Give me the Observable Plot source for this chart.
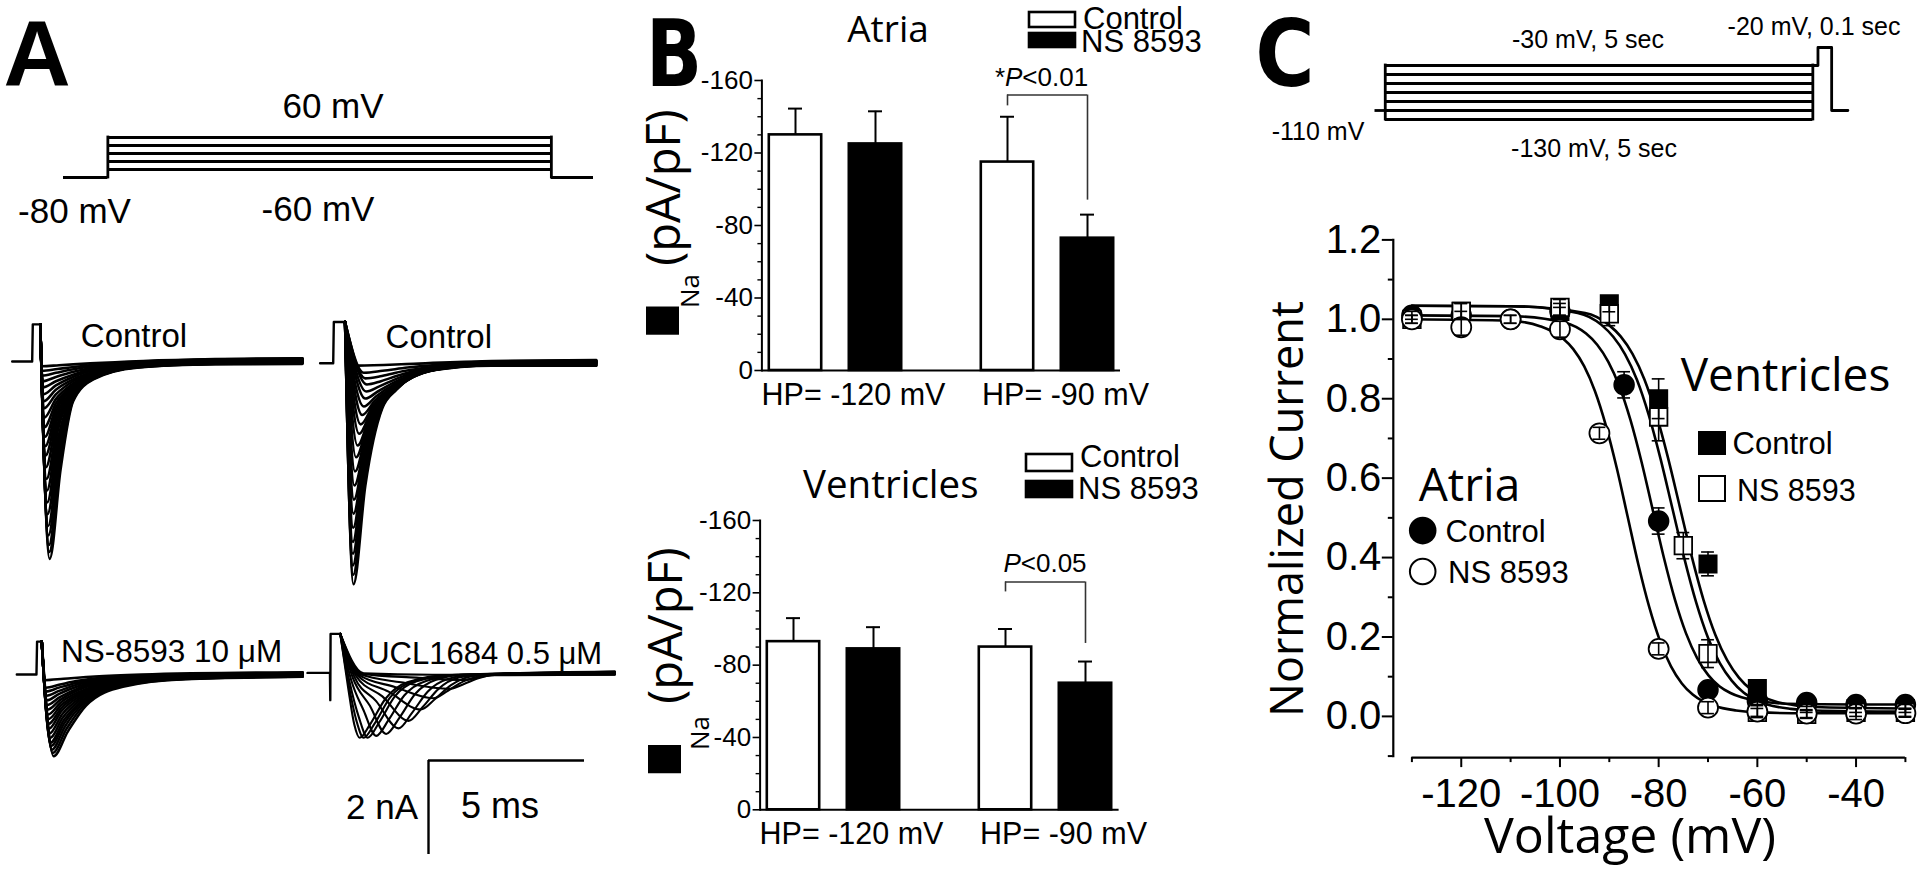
<!DOCTYPE html>
<html><head><meta charset="utf-8">
<script src="https://cdn.jsdelivr.net/npm/d3@7"></script>
<script src="https://cdn.jsdelivr.net/npm/@observablehq/plot@0.6"></script>
<style>
html,body{margin:0;padding:0;background:#fff;}
#fig{position:relative;width:1920px;height:870px;overflow:hidden;background:#fff;}
</style></head>
<body><div id="fig"></div>
<script>
// ---------------- DATA ----------------
// Panel A: voltage protocol (schematic)
const protoALevels = [60, 30, 0, -30, -60];
const protoAHold = -80;
const protoATimes = [0, 1, 11, 11.95]; // hold start, step on, step off, end

// Panel A: current traces (t in ms, I in nA)
const ctrlAtriaPulse = [[0,0],[0.64,0],[0.66,0.79],[0.9,0.79]];
const ctrlAtriaSweeps = [
 [[1.20,-4.2],[1.55,-2.3],[1.95,-0.85],[2.6,-0.38],[4.0,-0.13],[6.5,-0.06],[9.3,-0.05]],
 [[1.19,-4.05],[1.54,-2.2],[1.95,-0.82],[2.6,-0.37],[4.0,-0.12],[6.5,-0.05],[9.3,-0.035]],
 [[1.18,-3.9],[1.53,-2.1],[1.95,-0.8],[2.6,-0.36],[4.0,-0.12],[6.5,-0.05],[9.3,-0.04]],
 [[1.16,-3.7],[1.51,-2.0],[1.95,-0.77],[2.62,-0.35],[4.05,-0.11],[6.5,-0.04],[9.3,-0.03]],
 [[1.15,-3.5],[1.5,-1.9],[1.95,-0.75],[2.65,-0.34],[4.1,-0.11],[6.5,-0.04],[9.3,-0.02]],
 [[1.13,-3.25],[1.49,-1.75],[1.95,-0.73],[2.68,-0.33],[4.1,-0.1],[6.5,-0.03],[9.3,-0.015]],
 [[1.12,-3.0],[1.48,-1.6],[1.95,-0.72],[2.7,-0.32],[4.1,-0.1],[6.5,-0.03],[9.3,-0.01]],
 [[1.11,-2.75],[1.46,-1.47],[1.95,-0.7],[2.72,-0.31],[4.15,-0.09],[6.5,-0.02],[9.3,-0.005]],
 [[1.1,-2.5],[1.45,-1.35],[1.95,-0.68],[2.75,-0.3],[4.2,-0.09],[6.5,-0.02],[9.3,0.0]],
 [[1.08,-2.25],[1.43,-1.25],[1.95,-0.65],[2.78,-0.29],[4.2,-0.085],[6.5,-0.015],[9.3,0.005]],
 [[1.07,-2.0],[1.42,-1.15],[1.95,-0.62],[2.8,-0.28],[4.2,-0.08],[6.5,-0.01],[9.3,0.01]],
 [[1.06,-1.8],[1.41,-1.06],[1.95,-0.58],[2.8,-0.26],[4.2,-0.075],[6.5,-0.005],[9.3,0.015]],
 [[1.05,-1.6],[1.4,-0.98],[1.95,-0.55],[2.8,-0.25],[4.2,-0.07],[6.5,0.0],[9.3,0.02]],
 [[1.03,-1.4],[1.4,-0.89],[1.95,-0.51],[2.8,-0.23],[4.2,-0.065],[6.5,0.005],[9.3,0.025]],
 [[1.02,-1.2],[1.4,-0.8],[1.95,-0.47],[2.8,-0.22],[4.2,-0.06],[6.5,0.01],[9.3,0.03]],
 [[1.01,-1.0],[1.4,-0.7],[1.95,-0.42],[2.8,-0.2],[4.2,-0.055],[6.5,0.015],[9.3,0.035]],
 [[1.0,-0.85],[1.4,-0.6],[1.95,-0.38],[2.8,-0.18],[4.2,-0.05],[6.5,0.02],[9.3,0.04]],
 [[0.99,-0.7],[1.4,-0.51],[1.95,-0.33],[2.8,-0.15],[4.2,-0.04],[6.5,0.025],[9.3,0.045]],
 [[0.98,-0.55],[1.4,-0.42],[1.95,-0.28],[2.8,-0.13],[4.2,-0.03],[6.5,0.03],[9.3,0.05]],
 [[0.97,-0.42],[1.4,-0.33],[1.97,-0.22],[2.8,-0.1],[4.2,-0.02],[6.5,0.035],[9.3,0.055]],
 [[0.96,-0.3],[1.4,-0.24],[2.0,-0.16],[2.8,-0.08],[4.2,-0.01],[6.5,0.04],[9.3,0.06]],
 [[0.955,-0.2],[1.45,-0.16],[2.2,-0.1],[3.2,-0.04],[4.2,0.0],[6.5,0.045],[9.3,0.065]],
 [[0.95,-0.1],[1.5,-0.08],[2.5,-0.04],[4.2,0.01],[6.5,0.05],[9.3,0.07]]
];
const ctrlVentPulse = [[0,0],[0.42,0],[0.44,0.88],[0.8,0.88]];
const ctrlVentSweeps = [
 [[1.07,-4.7],[1.45,-2.6],[1.99,-0.96],[2.45,-0.56],[3.5,-0.16],[5.5,-0.05],[8.85,-0.05]],
 [[1.06,-4.5],[1.44,-2.45],[1.99,-0.93],[2.48,-0.53],[3.5,-0.155],[5.5,-0.045],[8.85,-0.045]],
 [[1.05,-4.3],[1.43,-2.3],[1.99,-0.9],[2.5,-0.5],[3.5,-0.15],[5.5,-0.04],[8.85,-0.04]],
 [[1.05,-4.05],[1.425,-2.15],[1.99,-0.88],[2.52,-0.48],[3.55,-0.145],[5.5,-0.035],[8.85,-0.03]],
 [[1.05,-3.8],[1.42,-2.0],[2.0,-0.85],[2.55,-0.46],[3.6,-0.14],[5.5,-0.03],[8.85,-0.02]],
 [[1.06,-3.5],[1.435,-1.87],[2.02,-0.83],[2.58,-0.44],[3.6,-0.135],[5.5,-0.025],[8.85,-0.015]],
 [[1.07,-3.2],[1.45,-1.75],[2.05,-0.8],[2.6,-0.42],[3.6,-0.13],[5.5,-0.02],[8.85,-0.01]],
 [[1.085,-2.9],[1.475,-1.62],[2.08,-0.78],[2.65,-0.41],[3.65,-0.125],[5.5,-0.015],[8.85,-0.005]],
 [[1.1,-2.6],[1.5,-1.5],[2.1,-0.75],[2.7,-0.4],[3.7,-0.12],[5.5,-0.01],[8.85,0.0]],
 [[1.12,-2.3],[1.52,-1.37],[2.12,-0.72],[2.75,-0.38],[3.75,-0.115],[5.5,-0.005],[8.85,0.005]],
 [[1.15,-2.0],[1.55,-1.25],[2.15,-0.68],[2.8,-0.36],[3.8,-0.11],[5.5,0.0],[8.85,0.01]],
 [[1.2,-1.75],[1.6,-1.12],[2.2,-0.64],[2.85,-0.33],[3.9,-0.105],[5.5,0.005],[8.85,0.015]],
 [[1.25,-1.5],[1.65,-1.0],[2.25,-0.6],[2.9,-0.3],[4.0,-0.1],[5.5,0.01],[8.85,0.02]],
 [[1.3,-1.3],[1.7,-0.9],[2.3,-0.55],[2.95,-0.28],[4.05,-0.09],[5.5,0.015],[8.85,0.025]],
 [[1.35,-1.1],[1.75,-0.8],[2.35,-0.5],[3.0,-0.26],[4.1,-0.08],[5.5,0.02],[8.85,0.03]],
 [[1.4,-0.92],[1.8,-0.7],[2.4,-0.44],[3.05,-0.23],[4.15,-0.07],[5.5,0.02],[8.85,0.035]],
 [[1.45,-0.75],[1.85,-0.6],[2.45,-0.38],[3.1,-0.2],[4.2,-0.06],[5.5,0.02],[8.85,0.04]],
 [[1.48,-0.6],[1.9,-0.49],[2.48,-0.32],[3.15,-0.17],[4.25,-0.05],[5.5,0.025],[8.85,0.045]],
 [[1.5,-0.45],[1.95,-0.38],[2.5,-0.26],[3.2,-0.14],[4.3,-0.04],[5.5,0.03],[8.85,0.05]],
 [[1.45,-0.32],[1.98,-0.27],[2.65,-0.17],[3.6,-0.08],[4.6,-0.02],[5.5,0.035],[8.85,0.055]],
 [[1.4,-0.2],[2.0,-0.16],[2.8,-0.09],[4.0,-0.02],[5.5,0.04],[8.85,0.06]],
 [[1.2,-0.05],[3.0,-0.01],[5.5,0.05],[8.85,0.07]]
];
const nsAtriaPulse = [[0,0],[0.63,0],[0.65,0.7],[0.8,0.7]];
const nsAtriaSweeps = [
 [[1.18,-1.74],[1.63,-1.22],[2.22,-0.66],[3.4,-0.26],[5.4,-0.1],[9.16,-0.05]],
 [[1.15,-1.67],[1.59,-1.16],[2.18,-0.63],[3.35,-0.25],[5.4,-0.095],[9.16,-0.045]],
 [[1.12,-1.6],[1.55,-1.1],[2.15,-0.6],[3.3,-0.24],[5.4,-0.09],[9.16,-0.04]],
 [[1.1,-1.52],[1.52,-1.04],[2.12,-0.57],[3.3,-0.23],[5.4,-0.085],[9.16,-0.03]],
 [[1.08,-1.45],[1.5,-0.98],[2.1,-0.55],[3.3,-0.22],[5.4,-0.08],[9.16,-0.02]],
 [[1.065,-1.35],[1.47,-0.92],[2.07,-0.52],[3.25,-0.21],[5.4,-0.075],[9.16,-0.015]],
 [[1.05,-1.25],[1.45,-0.85],[2.05,-0.49],[3.2,-0.2],[5.4,-0.07],[9.16,-0.01]],
 [[1.035,-1.15],[1.43,-0.78],[2.02,-0.46],[3.2,-0.19],[5.4,-0.065],[9.16,-0.005]],
 [[1.02,-1.05],[1.42,-0.72],[2.0,-0.43],[3.2,-0.18],[5.4,-0.06],[9.16,0.0]],
 [[1.01,-0.95],[1.41,-0.66],[2.0,-0.4],[3.15,-0.17],[5.4,-0.055],[9.16,0.005]],
 [[1.0,-0.85],[1.4,-0.6],[2.0,-0.37],[3.1,-0.16],[5.4,-0.05],[9.16,0.01]],
 [[0.985,-0.75],[1.39,-0.54],[1.97,-0.33],[3.05,-0.145],[5.4,-0.045],[9.16,0.015]],
 [[0.97,-0.65],[1.38,-0.48],[1.95,-0.3],[3.0,-0.13],[5.4,-0.04],[9.16,0.02]],
 [[0.96,-0.55],[1.36,-0.41],[1.92,-0.26],[2.95,-0.115],[5.4,-0.035],[9.16,0.025]],
 [[0.95,-0.45],[1.35,-0.35],[1.9,-0.22],[2.9,-0.1],[5.4,-0.03],[9.16,0.03]],
 [[0.94,-0.36],[1.35,-0.28],[1.9,-0.18],[2.9,-0.08],[5.4,-0.02],[9.16,0.035]],
 [[0.93,-0.28],[1.35,-0.22],[1.9,-0.14],[2.9,-0.06],[5.4,-0.01],[9.16,0.04]],
 [[0.9,-0.12],[1.5,-0.09],[2.5,-0.04],[4.0,0.0],[9.16,0.05]]
];
const uclPulse = [[0,0],[0.72,0],[0.73,-0.58],[0.74,0.83],[1.05,0.83]];
const uclSweeps = [
 [[1.3,-0.3],[1.5,-1.1],[1.67,-1.38],[2.0,-1.1],[2.5,-0.55],[3.2,-0.2],[4.5,-0.05],[9.85,-0.04]],
 [[1.32,-0.25],[1.57,-1.02],[1.8,-1.38],[2.15,-1.08],[2.65,-0.52],[3.35,-0.19],[4.65,-0.045],[9.85,-0.035]],
 [[1.35,-0.2],[1.65,-0.95],[1.93,-1.38],[2.3,-1.05],[2.8,-0.5],[3.5,-0.18],[4.8,-0.04],[9.85,-0.03]],
 [[1.4,-0.15],[1.8,-0.8],[2.2,-1.34],[2.6,-1.0],[3.1,-0.48],[3.8,-0.17],[5.0,-0.04],[9.85,-0.02]],
 [[1.45,-0.1],[2.0,-0.7],[2.52,-1.30],[2.95,-0.95],[3.45,-0.45],[4.1,-0.15],[5.2,-0.03],[9.85,-0.01]],
 [[1.5,-0.08],[2.2,-0.6],[2.92,-1.18],[3.35,-0.85],[3.85,-0.4],[4.5,-0.13],[5.5,-0.03],[9.85,0.0]],
 [[1.55,-0.06],[2.4,-0.5],[3.24,-1.02],[3.7,-0.72],[4.2,-0.34],[4.85,-0.1],[5.8,-0.02],[9.85,0.01]],
 [[1.6,-0.05],[2.6,-0.4],[3.63,-0.78],[4.1,-0.55],[4.6,-0.26],[5.2,-0.08],[6.0,-0.02],[9.85,0.01]],
 [[1.65,-0.04],[2.8,-0.3],[4.03,-0.54],[4.5,-0.38],[5.0,-0.18],[5.6,-0.06],[6.3,-0.01],[9.85,0.02]],
 [[1.7,-0.03],[3.0,-0.2],[4.55,-0.34],[5.0,-0.24],[5.5,-0.11],[6.1,-0.03],[9.85,0.02]],
 [[1.75,-0.02],[3.5,-0.1],[5.0,-0.15],[5.6,-0.08],[6.5,-0.01],[9.85,0.03]],
 [[1.8,-0.01],[4.0,-0.04],[6.0,-0.02],[9.85,0.03]]
];
const scaleBarNA = 2, scaleBarMs = 5;

// Panel B: bar charts (pA/pF)
const hpGroups = ["HP= -120 mV", "HP= -90 mV"];
const atriaControl = [-130, -115], atriaControlSE = [14.5, 25];
const atriaNS = [-125, -73], atriaNSSE = [18, 13];
const ventControl = [-93, -90], ventControlSE = [13, 10];
const ventNS = [-89, -70], ventNSSE = [12, 12];
const atriaBracket = {top: -152, left: -146, right: -94};
const ventBracket = {top: -126, left: -120.5, right: -92};
const barMajorTicks = [0, -40, -80, -120, -160];
const barMinorTicks = [-10,-20,-30,-50,-60,-70,-90,-100,-110,-130,-140,-150];

// Panel C: protocol (schematic, evenly spaced levels)
const protoCLevels = [-30, -45, -60, -75, -90, -110, -130];
const protoCHold = -110, protoCPulse = -20;
const protoCAxis = [-20, -25, -30, -45, -60, -75, -90, -110, -130];
const protoCTimes = {holdStart: -0.12, stepOn: 0, stepOff: 5, pulseOn: 5.06, pulseOff: 5.22, end: 5.41};

// Panel C: steady-state inactivation data
const voltAtriaCtrl = [-130,-120,-110,-100,-87,-80,-70,-60,-50,-40,-30];
const curAtriaCtrl  = [1.01,1.01,1.0,1.02,0.835,0.492,0.067,0.04,0.035,0.03,0.03];
const semAtriaCtrl  = [0.01,0.01,0.01,0.01,0.033,0.033,0.015,0.01,0.01,0.01,0.01];
const voltAtriaNS = [-130,-120,-110,-100,-92,-80,-70,-60,-50,-40,-30];
const curAtriaNS  = [1.0,0.98,1.0,0.975,0.713,0.17,0.022,0.012,0.007,0.007,0.008];
const semAtriaNS  = [0.01,0.02,0.01,0.02,0.015,0.015,0.015,0.015,0.01,0.015,0.01];
const voltVentCtrl = [-120,-100,-90,-80,-70,-60,-50,-40,-30];
const curVentCtrl  = [1.02,1.02,1.039,0.80,0.384,0.07,0.02,0.02,0.02];
const semVentCtrl  = [0.02,0.02,0.02,0.05,0.03,0.02,0.01,0.01,0.01];
const voltVentNS = [-130,-120,-100,-90,-80,-75,-70,-60,-50,-40,-30];
const curVentNS  = [1.0,1.02,1.03,1.014,0.754,0.43,0.158,0.01,0.005,0.01,0.01];
const semVentNS  = [0.01,0.02,0.02,0.03,0.06,0.033,0.035,0.01,0.01,0.01,0.01];
// fitted curves
const fitVoltAtriaNS = [-130,-110,-103.9,-99.5,-97.3,-95.1,-92.9,-90.7,-88.5,-86.3,-84.1,-81.9,-79.7,-77.5,-75.3,-73.1,-70.9,-68.7,-64.3,-59.9,-50,-30];
const fitCurAtriaNS  = [1.0,0.996,0.982,0.953,0.925,0.882,0.819,0.733,0.626,0.504,0.382,0.275,0.189,0.126,0.083,0.055,0.037,0.026,0.015,0.010,0.008,0.008];
const fitVoltAtriaCtrl = [-130,-110,-99.2,-94.7,-92.45,-90.2,-87.95,-85.7,-83.45,-81.2,-78.95,-76.7,-74.45,-72.2,-69.95,-67.7,-65.45,-63.2,-58.7,-54.2,-40,-30];
const fitCurAtriaCtrl  = [1.01,1.008,0.992,0.964,0.936,0.893,0.831,0.746,0.640,0.520,0.400,0.294,0.209,0.147,0.104,0.076,0.059,0.048,0.037,0.032,0.03,0.03];
const fitVoltVentNS = [-130,-110,-96.4,-91.6,-89.2,-86.8,-84.4,-82.0,-79.6,-77.2,-74.8,-72.4,-70.0,-67.6,-65.2,-62.8,-60.4,-58.0,-53.2,-48.4,-30];
const fitCurVentNS  = [1.034,1.033,1.016,0.986,0.956,0.912,0.848,0.759,0.648,0.523,0.398,0.287,0.198,0.134,0.090,0.060,0.042,0.030,0.019,0.015,0.012];
const fitVoltVentCtrl = [-130,-110,-94.9,-90.1,-87.7,-85.3,-82.9,-80.5,-78.1,-75.7,-73.3,-70.9,-68.5,-66.1,-63.7,-61.3,-58.9,-56.5,-51.7,-46.9,-30];
const fitCurVentCtrl  = [1.034,1.033,1.016,0.986,0.957,0.913,0.849,0.761,0.651,0.527,0.403,0.293,0.205,0.141,0.097,0.068,0.050,0.038,0.027,0.023,0.02];
const cYMajor = [0, 0.2, 0.4, 0.6, 0.8, 1.0, 1.2];
const cYMinor = [-0.1, 0.1, 0.3, 0.5, 0.7, 0.9, 1.1];
const cXMajor = [-120, -100, -80, -60, -40];
const cXMinor = [-130, -110, -90, -70, -50, -30];

// ---------------- RENDER ----------------
const fig = document.getElementById("fig");
const LS = "Liberation Sans, Arial, sans-serif", OS = "Open Sans, sans-serif", DV = "DejaVu Sans, sans-serif";
const baseStyle = {background: "transparent", overflow: "visible", color: "black"};
function place(node, left, top) {
  node.style.position = "absolute"; node.style.left = left + "px"; node.style.top = top + "px";
  node.style.maxWidth = "none";
  fig.appendChild(node);
}

// Panel A protocol
place(Plot.plot({
  width: 580, height: 90, style: baseStyle,
  x: {domain: [protoATimes[0], protoATimes[3]], range: [23, 553], axis: null},
  y: {type: "point", domain: [...protoALevels, protoAHold], range: [20.7, 73.7], axis: null},
  marks: [
    Plot.ruleY(protoALevels, {y: d => d, x1: protoATimes[1], x2: protoATimes[2], strokeWidth: 2.8}),
    Plot.ruleX([protoATimes[1], protoATimes[2]], {y1: protoAHold, y2: protoALevels[0], strokeWidth: 2.8, strokeLinecap: "square"}),
    Plot.ruleY([protoAHold], {x1: protoATimes[0], x2: protoATimes[1], strokeWidth: 2.8}),
    Plot.ruleY([protoAHold], {x1: protoATimes[2], x2: protoATimes[3], strokeWidth: 2.8})
  ]
}), 40, 110);

// Panel A traces
function tracePlot(c) {
  const start = c.pulse[c.pulse.length - 1];
  const rows = [];
  c.sweeps.forEach((sw, k) => [start, ...sw].forEach(([t, i]) => rows.push({k, t, i})));
  const pulseRows = c.pulse.map(([t, i]) => ({t, i}));
  return Plot.plot({
    width: c.w, height: c.h, marginLeft: c.ml, marginRight: c.mr, marginTop: c.mt, marginBottom: c.mb,
    style: baseStyle,
    x: {domain: c.xd, axis: null}, y: {domain: c.yd, axis: null},
    marks: [
      Plot.line(pulseRows, {x: "t", y: "i", stroke: "black", strokeWidth: 2.4}),
      Plot.line(rows, {x: "t", y: "i", z: "k", stroke: "black", strokeWidth: c.sw, curve: "monotone-x"})
    ]
  });
}
place(tracePlot({pulse: ctrlAtriaPulse, sweeps: ctrlAtriaSweeps, sw: 2.6, w: 320, h: 300, ml: 11.7, mr: 18.14, mt: 4.6, mb: 4, xd: [0, 9.3], yd: [-5, 1.2]}), 0, 300);
place(tracePlot({pulse: ctrlVentPulse, sweeps: ctrlVentSweeps, sw: 2.6, w: 300, h: 300, ml: 9.6, mr: 14.3, mt: 6.4, mb: 2.2, xd: [0, 8.85], yd: [-5, 1.2]}), 310, 300);
place(tracePlot({pulse: nsAtriaPulse, sweeps: nsAtriaSweeps, sw: 2.5, w: 320, h: 180, ml: 16.3, mr: 17.9, mt: 17, mb: 12.6, xd: [0, 9.16], yd: [-2.2, 1.0]}), 0, 610);
place(tracePlot({pulse: uclPulse, sweeps: uclSweeps, sw: 2.1, w: 330, h: 180, ml: 7, mr: 15.7, mt: 15.4, mb: 14.2, xd: [0, 9.85], yd: [-2.2, 1.0]}), 300, 610);

// scale bar
place(Plot.plot({
  width: 200, height: 130, marginLeft: 28, marginRight: 16, marginTop: 20, marginBottom: 16, style: baseStyle,
  x: {domain: [0, scaleBarMs], axis: null}, y: {domain: [-scaleBarNA, 0], axis: null},
  marks: [
    Plot.ruleX([0], {y1: 0, y2: -scaleBarNA, strokeWidth: 2.4}),
    Plot.ruleY([0], {x1: 0, x2: scaleBarMs, strokeWidth: 2.4})
  ]
}), 400, 740);

// Panel B bars
function barPlot(c) {
  const rows = hpGroups.map((g, i) => ({g, c: c.ctrl[i], cse: c.ctrlSE[i], n: c.ns[i], nse: c.nsSE[i]}));
  const grp = () => hpGroups[1];
  return Plot.plot({
    width: 570, height: 360, marginLeft: c.ml, marginRight: c.mr, marginTop: 20, marginBottom: c.mb,
    style: {...baseStyle, fontFamily: LS},
    x: {domain: hpGroups, paddingInner: 0.5, paddingOuter: 0.095, axis: null, label: null},
    y: {domain: [0, -160], axis: null, label: null},
    marks: [
      Plot.axisY({ticks: barMajorTicks, tickSize: 7, tickPadding: 2, tickFormat: d => String(d), fontSize: 26, strokeWidth: 1.6, label: null}),
      Plot.axisY({ticks: barMinorTicks, tickSize: 4, tickFormat: () => "", strokeWidth: 1.4, label: null}),
      Plot.axisX({tickSize: 0, tickPadding: 12.5, fontSize: 30.5, dx: 18, label: null}),
      Plot.barY(rows, {x: "g", y: "c", dx: -40, insetLeft: 26.8, insetRight: 26.8, fill: "white", stroke: "black", strokeWidth: 2.6}),
      Plot.barY(rows, {x: "g", y: "n", dx: 40, insetLeft: 26.8, insetRight: 26.8, fill: "black", stroke: "black", strokeWidth: 2.6}),
      Plot.ruleX(rows, {x: "g", y1: "c", y2: d => d.c - d.cse, dx: -40, strokeWidth: 2}),
      Plot.tickY(rows, {x: "g", y: d => d.c - d.cse, dx: -40, insetLeft: 46, insetRight: 46, strokeWidth: 2}),
      Plot.ruleX(rows, {x: "g", y1: "n", y2: d => d.n - d.nse, dx: 40, strokeWidth: 2}),
      Plot.tickY(rows, {x: "g", y: d => d.n - d.nse, dx: 40, insetLeft: 46, insetRight: 46, strokeWidth: 2}),
      Plot.tickY([c.bracket], {x: grp, y: "top", insetLeft: 13.05, insetRight: 13.05, strokeWidth: 1.6, stroke: "#333"}),
      Plot.ruleX([c.bracket], {x: grp, y1: "top", y2: "left", dx: -40, strokeWidth: 1.6, stroke: "#333"}),
      Plot.ruleX([c.bracket], {x: grp, y1: "top", y2: "right", dx: 40, strokeWidth: 1.6, stroke: "#333"}),
      Plot.frame({anchor: "left", strokeWidth: 2}),
      Plot.ruleY([0], {strokeWidth: 2})
    ]
  });
}
place(barPlot({ctrl: atriaControl, ctrlSE: atriaControlSE, ns: atriaNS, nsSE: atriaNSSE, bracket: atriaBracket, ml: 121.4, mr: 90, mb: 50}), 640, 60);
place(barPlot({ctrl: ventControl, ctrlSE: ventControlSE, ns: ventNS, nsSE: ventNSSE, bracket: ventBracket, ml: 119.6, mr: 91.4, mb: 50.7}), 640, 500);

// Panel C protocol
place(Plot.plot({
  width: 520, height: 120, style: baseStyle,
  x: {domain: [protoCTimes.holdStart, protoCTimes.end], range: [24.5, 497.4], axis: null},
  y: {type: "point", domain: protoCAxis, range: [21.7, 104], axis: null},
  marks: [
    Plot.ruleY(protoCLevels, {y: d => d, x1: protoCTimes.stepOn, x2: protoCTimes.stepOff, strokeWidth: 2.8}),
    Plot.ruleX([protoCTimes.stepOn, protoCTimes.stepOff], {y1: protoCLevels[protoCLevels.length - 1], y2: protoCLevels[0], strokeWidth: 2.8, strokeLinecap: "square"}),
    Plot.ruleY([protoCHold], {x1: protoCTimes.holdStart, x2: protoCTimes.stepOn, strokeWidth: 2.8}),
    Plot.line([[protoCTimes.stepOff, protoCLevels[0]], [protoCTimes.pulseOn, protoCLevels[0]], [protoCTimes.pulseOn, protoCPulse], [protoCTimes.pulseOff, protoCPulse], [protoCTimes.pulseOff, protoCHold], [protoCTimes.end, protoCHold]],
      {x: d => d[0], y: d => d[1], strokeWidth: 2.8})
  ]
}), 1350, 20);

// Panel C plot
const mk = (v, c, s) => v.map((x, i) => ({v: x, y: c[i], se: s[i]}));
const rowsAC = mk(voltAtriaCtrl, curAtriaCtrl, semAtriaCtrl);
const rowsAN = mk(voltAtriaNS, curAtriaNS, semAtriaNS);
const rowsVC = mk(voltVentCtrl, curVentCtrl, semVentCtrl);
const rowsVN = mk(voltVentNS, curVentNS, semVentNS);
const fitRows = [
  ...fitVoltAtriaNS.map((v, i) => ({k: "aNS", v, y: fitCurAtriaNS[i]})),
  ...fitVoltAtriaCtrl.map((v, i) => ({k: "aC", v, y: fitCurAtriaCtrl[i]})),
  ...fitVoltVentNS.map((v, i) => ({k: "vNS", v, y: fitCurVentNS[i]})),
  ...fitVoltVentCtrl.map((v, i) => ({k: "vC", v, y: fitCurVentCtrl[i]}))
];
const errRows = [...rowsAC, ...rowsAN, ...rowsVC, ...rowsVN];
place(Plot.plot({
  width: 670, height: 670, marginLeft: 142.8, marginRight: 15.1, marginTop: 39.4, marginBottom: 114.4,
  style: {...baseStyle, fontFamily: LS},
  x: {domain: [-133.77, -30], axis: null, label: null},
  y: {domain: [-0.1, 1.2], axis: null, label: null},
  marks: [
    Plot.frame({anchor: "left", strokeWidth: 2.2}),
    Plot.ruleY([-0.1], {x1: cXMinor[0], x2: cXMinor[cXMinor.length - 1], strokeWidth: 2.2, dy: 1.5}),
    Plot.axisY({ticks: cYMajor, tickSize: 11, tickPadding: 1, tickFormat: d => d.toFixed(1), fontSize: 40, strokeWidth: 2, label: null}),
    Plot.axisY({ticks: cYMinor, tickSize: 5, tickFormat: () => "", strokeWidth: 2, label: null}),
    Plot.axisX({ticks: cXMajor, tickSize: 10, tickPadding: 11, tickFormat: d => String(d), fontSize: 40, strokeWidth: 2, label: null, dy: 1.5}),
    Plot.axisX({ticks: cXMinor, tickSize: 5, tickFormat: () => "", strokeWidth: 2, label: null, dy: 1.5}),
    Plot.line(fitRows, {x: "v", y: "y", z: "k", curve: "monotone-x", stroke: "black", strokeWidth: 2.6}),
    Plot.dot(rowsVC, {x: "v", y: "y", symbol: "square", r: 9.9, fill: "black", stroke: "black", strokeWidth: 1.5}),
    Plot.dot(rowsAC, {x: "v", y: "y", symbol: "circle", r: 10, fill: "black", stroke: "black", strokeWidth: 1.5}),
    Plot.dot(rowsVN, {x: "v", y: "y", symbol: "square", r: 9.9, fill: "white", stroke: "black", strokeWidth: 1.8}),
    Plot.dot(rowsAN, {x: "v", y: "y", symbol: "circle", r: 10, fill: "white", stroke: "black", strokeWidth: 1.8}),
    Plot.ruleX(errRows, {x: "v", y1: d => d.y - d.se, y2: d => d.y + d.se, strokeWidth: 1.6}),
    Plot.ruleY(errRows, {y: d => d.y + d.se, x1: d => d.v - 1.3, x2: d => d.v + 1.3, strokeWidth: 1.6}),
    Plot.ruleY(errRows, {y: d => d.y - d.se, x1: d => d.v - 1.3, x2: d => d.v + 1.3, strokeWidth: 1.6})
  ]
}), 1250, 200);

// ---------------- TEXT OVERLAY ----------------
const ov = d3.create("svg").attr("width", 1920).attr("height", 870)
  .style("position", "absolute").style("left", "0px").style("top", "0px").style("overflow", "visible");
function T(str, x, y, o = {}) {
  const {size = 30, family = LS, weight = 400, anchor = "middle", rotate = 0, sx = 1} = o;
  return ov.append("text")
    .attr("transform", `translate(${x},${y})` + (rotate ? ` rotate(${rotate})` : "") + (sx !== 1 ? ` scale(${sx},1)` : ""))
    .attr("text-anchor", anchor).attr("font-family", family).attr("font-size", size)
    .attr("font-weight", weight).attr("fill", "black").text(str);
}
// panel letters
T("A", 37, 85, {size: 93, weight: 700});
T("B", 674, 86, {size: 92, family: DV, weight: 700, sx: 0.8});
T("C", 1285, 86, {size: 92, family: DV, weight: 700, sx: 0.88});
// Panel A labels
T("60 mV", 333, 118, {size: 35});
T("-80 mV", 74.5, 222.5, {size: 35});
T("-60 mV", 318, 220.5, {size: 35});
T("Control", 134, 347.3, {size: 33});
T("Control", 438.8, 348.2, {size: 33});
T("NS-8593 10 \u03BCM", 171.6, 661.9, {size: 31.5});
T("UCL1684 0.5 \u03BCM", 484.7, 663.8, {size: 31});
T("2 nA", 382, 819.2, {size: 35});
T("5 ms", 500, 817.9, {size: 36});
// Panel B labels
T("Atria", 888, 42, {size: 37, family: OS});
T("Ventricles", 890.8, 498, {size: 38.5, family: OS});
function legendB(x, yOpen, hOpen, yFill, hFill, yt1, yt2) {
  ov.append("rect").attr("x", x).attr("y", yOpen).attr("width", 46).attr("height", hOpen).attr("fill", "white").attr("stroke", "black").attr("stroke-width", 2.6);
  ov.append("rect").attr("x", x - 1.3).attr("y", yFill - 1.3).attr("width", 48.6).attr("height", hFill + 2.6).attr("fill", "black");
  T("Control", x + 54, yt1, {size: 31, anchor: "start"});
  T("NS 8593", x + 52, yt2, {size: 31, anchor: "start"});
}
legendB(1029, 12, 15, 33, 14, 28.6, 52.1);
legendB(1026, 454, 17, 481, 16, 466.9, 498.6);
{
  const t1 = T("", 1041.5, 86.3, {size: 26});
  t1.append("tspan").text("*"); t1.append("tspan").attr("font-style", "italic").text("P"); t1.append("tspan").text("<0.01");
  const t2 = T("", 1045, 571.8, {size: 26});
  t2.append("tspan").attr("font-style", "italic").text("P"); t2.append("tspan").text("<0.05");
}
function inaLabel(bx, yI, yNa, bxNa, yUnit) {
  T("I", bx, yI, {size: 47, family: OS, weight: 700, rotate: -90, sx: 4});
  T("Na", bxNa, yNa, {size: 26, family: OS, rotate: -90});
  T("(pA/pF)", bx + 1, yUnit, {size: 47, family: OS, rotate: -90});
}
inaLabel(679, 320.5, 291, 699, 187.5);
inaLabel(681, 759, 733, 709, 625.5);
// Panel C labels
T("-30 mV, 5 sec", 1588, 48.2, {size: 25});
T("-20 mV, 0.1 sec", 1814, 34.8, {size: 25});
T("-110 mV", 1318, 139.8, {size: 25});
T("-130 mV, 5 sec", 1594, 157.3, {size: 25});
T("Normalized Current", 1303, 509, {size: 45, family: OS, rotate: -90});
T("Voltage (mV)", 1630, 853, {size: 50, family: OS});
T("Ventricles", 1785.5, 391, {size: 46, family: OS});
T("Atria", 1469.5, 501, {size: 46, family: OS});
ov.append("rect").attr("x", 1698).attr("y", 431).attr("width", 28).attr("height", 24).attr("fill", "black");
T("Control", 1732.6, 453.7, {size: 31, anchor: "start"});
ov.append("rect").attr("x", 1699).attr("y", 476).attr("width", 26).attr("height", 25).attr("fill", "white").attr("stroke", "black").attr("stroke-width", 2);
T("NS 8593", 1737, 501, {size: 30.5, anchor: "start"});
ov.append("circle").attr("cx", 1422.7).attr("cy", 530.6).attr("r", 13.8).attr("fill", "black");
T("Control", 1445.6, 541.7, {size: 31, anchor: "start"});
ov.append("circle").attr("cx", 1422.7).attr("cy", 571.5).attr("r", 12.8).attr("fill", "white").attr("stroke", "black").attr("stroke-width", 2);
T("NS 8593", 1448, 582.6, {size: 31, anchor: "start"});
fig.appendChild(ov.node());
</script>
</body></html>
